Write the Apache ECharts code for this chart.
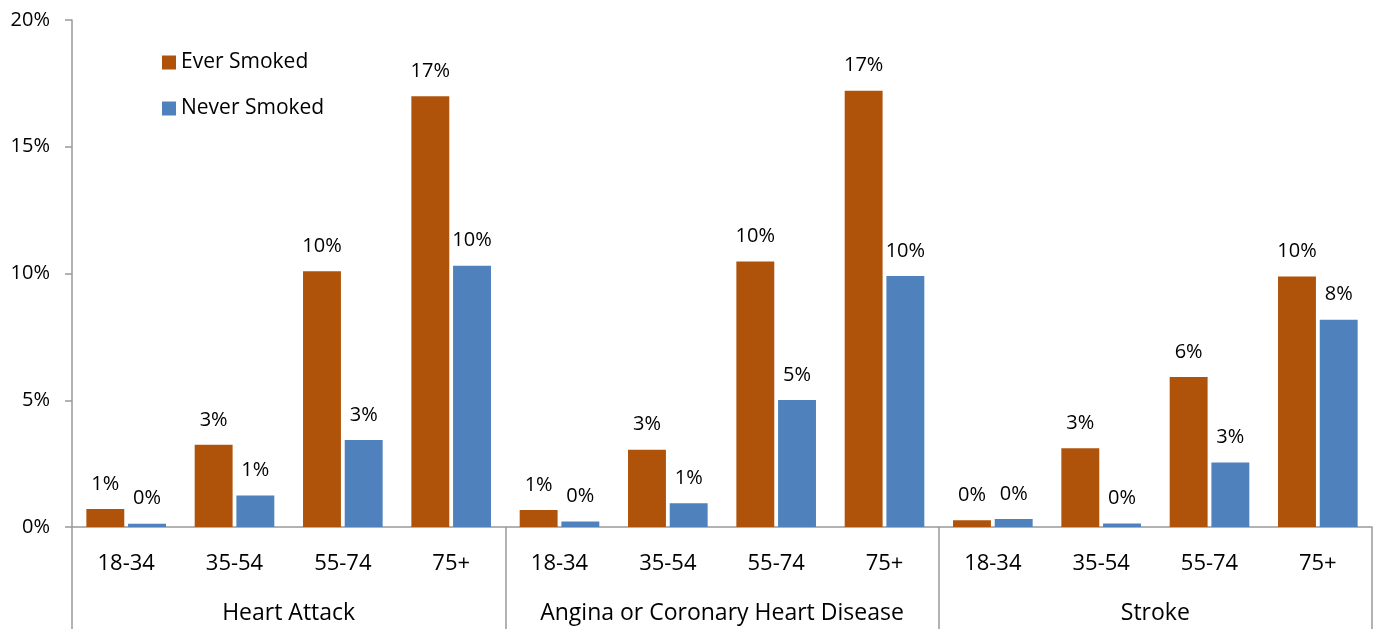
<!DOCTYPE html>
<html>
<head>
<meta charset="utf-8">
<script src="https://cdn.jsdelivr.net/npm/echarts@6/dist/echarts.min.js"></script>
<style>
html,body{margin:0;padding:0;background:#fff;}
#chart{width:1377px;height:629px;}
</style>
</head>
<body>
<div id="chart"></div>
<script>
const ageGroups = ['18-34','35-54','55-74','75+'];
const conditions = ['Heart Attack','Angina or Coronary Heart Disease','Stroke'];
const yTicks = [0,5,10,15,20];
const everSmoked = [0.71,3.24,10.09,16.99, 0.67,3.05,10.47,17.21, 0.27,3.11,5.92,9.88];
const neverSmoked = [0.13,1.24,3.43,10.31, 0.22,0.94,5.01,9.90, 0.32,0.14,2.54,8.18];
const seriesNames = ['Ever Smoked','Never Smoked'];

const categories = [];
conditions.forEach(() => ageGroups.forEach(a => categories.push(a)));

const FONT = '"Open Sans", sans-serif';
const chart = echarts.init(document.getElementById('chart'));
const labelCfg = {
  show: true, position: 'top', distance: 15,
  color: '#000', fontFamily: FONT, fontSize: 20,
  formatter: p => Math.round(p.value) + '%'
};
chart.setOption({
  animation: false,
  backgroundColor: '#fff',
  grid: {left: 72, right: 5, top: 20, bottom: 102, containLabel: false},
  legend: {
    orient: 'vertical', left: 157, top: 47,
    itemWidth: 14, itemHeight: 14, itemGap: 25,
    icon: 'rect',
    textStyle: {fontFamily: FONT, fontSize: 21, color: '#000'},
    data: seriesNames
  },
  xAxis: [
    {
      type: 'category', data: categories, position: 'bottom',
      axisLine: {show: true, lineStyle: {color: '#999', width: 1.5}},
      axisTick: {show: false},
      axisLabel: {color: '#000', fontFamily: FONT, fontSize: 22, margin: 26, interval: 0}
    },
    {
      type: 'category', data: conditions, position: 'bottom',
      axisLine: {show: false},
      axisTick: {show: true, length: 102, interval: 0, lineStyle: {color: '#999', width: 1.5}},
      axisLabel: {color: '#000', fontFamily: FONT, fontSize: 23, margin: 75, interval: 0}
    }
  ],
  yAxis: {
    type: 'value', min: yTicks[0], max: yTicks[yTicks.length-1], interval: 5,
    axisLine: {show: true, lineStyle: {color: '#999', width: 1.5}},
    axisTick: {show: true, length: 7, lineStyle: {color: '#999', width: 1.5}},
    splitLine: {show: false},
    axisLabel: {color: '#000', fontFamily: FONT, fontSize: 20, margin: 22, formatter: v => v + '%'}
  },
  series: [
    {name: seriesNames[0], type: 'bar', xAxisIndex: 0, data: everSmoked,
     barWidth: '35%', barGap: '10%', itemStyle: {color: '#B0530A'}, label: labelCfg},
    {name: seriesNames[1], type: 'bar', xAxisIndex: 0, data: neverSmoked,
     barWidth: '35%', barGap: '10%', itemStyle: {color: '#4F81BD'}, label: labelCfg}
  ]
});
</script>
</body>
</html>
